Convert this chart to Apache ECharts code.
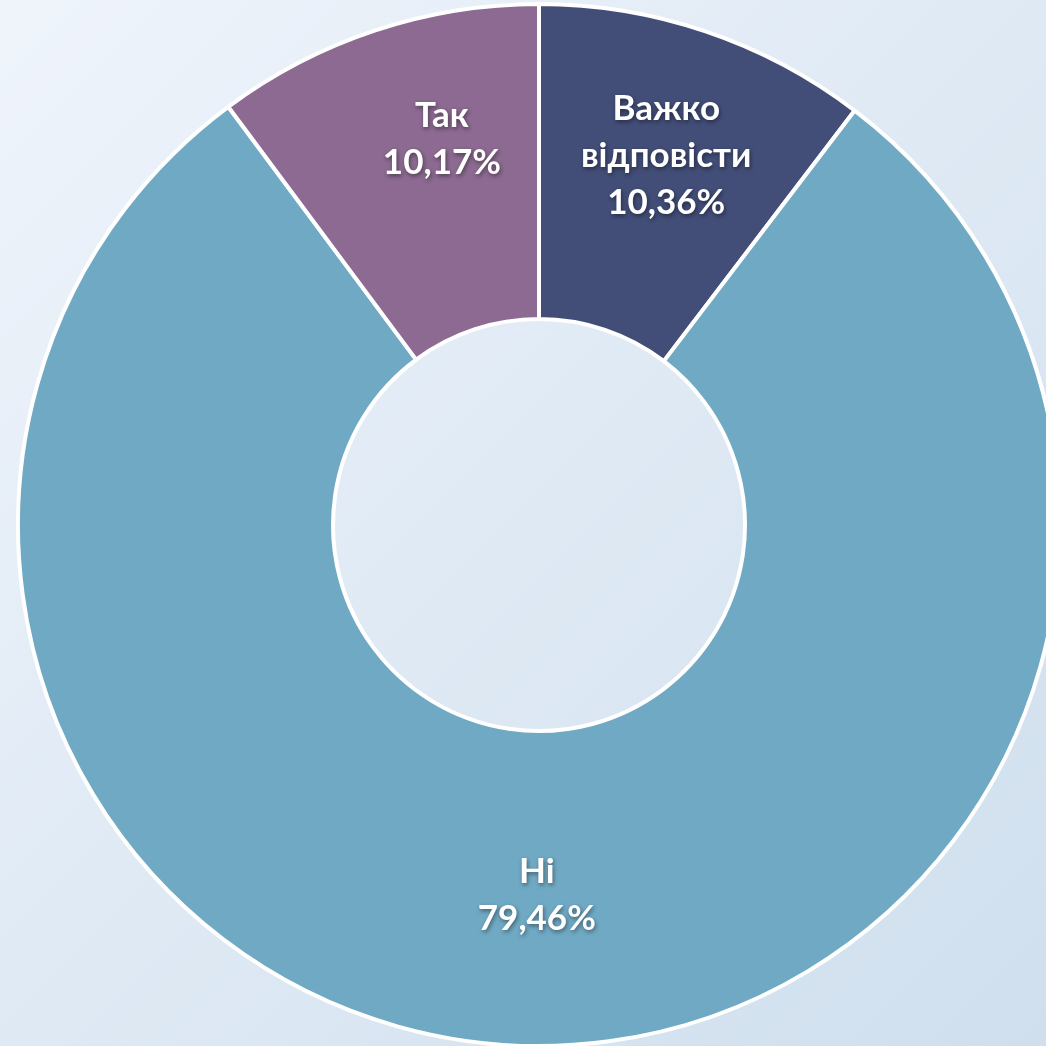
<!DOCTYPE html>
<html>
<head>
<meta charset="utf-8">
<script src="https://cdn.jsdelivr.net/npm/echarts@6/dist/echarts.min.js"></script>
<style>
	html, body { margin: 0; padding: 0; }
	#chart { width: 1046px; height: 1046px; }
</style>
</head>
<body>
<div id="chart"></div>
<script>
// відповіді (за годинниковою стрілкою від верху)
var names = ['Важко\nвідповісти', 'Ні', 'Так'];
var shares = [10.36, 79.46, 10.17];
var colors = ['#424e78', '#70a9c4', '#8c6a91'];

// зсув підписів відносно середини сектора
var labelShift = [[10, -22], [0, 4], [18, -38]];

var myChart = echarts.init(document.getElementById('chart'));

var data = [];
for (var i = 0; i < names.length; i++) {
	data.push({
		value: shares[i],
		name: names[i],
		itemStyle: { color: colors[i] },
		label: { offset: labelShift[i] }
	});
}

var option = {
	backgroundColor: new echarts.graphic.LinearGradient(0, 0, 1, 1, [
		{ offset: 0, color: '#eff4fb' },
		{ offset: 1, color: '#cfdfee' }
	]),
	series: [{
		type: 'pie',
		center: [539, 525],
		radius: [206, 521],
		startAngle: 90,
		animation: false,
		itemStyle: {
			borderColor: '#ffffff',
			borderWidth: 4
		},
		label: {
			show: true,
			position: 'inside',
			formatter: function (p) {
				return p.name + '\n' + p.value.toFixed(2).replace('.', ',') + '%';
			},
			color: '#ffffff',
			fontFamily: 'Lato',
			fontWeight: 'bold',
			fontSize: 35,
			lineHeight: 47,
			textShadowColor: 'rgba(0,0,0,0.45)',
			textShadowBlur: 4,
			textShadowOffsetX: 1,
			textShadowOffsetY: 2
		},
		labelLine: { show: false },
		data: data
	}]
};
myChart.setOption(option);
</script>
</body>
</html>
